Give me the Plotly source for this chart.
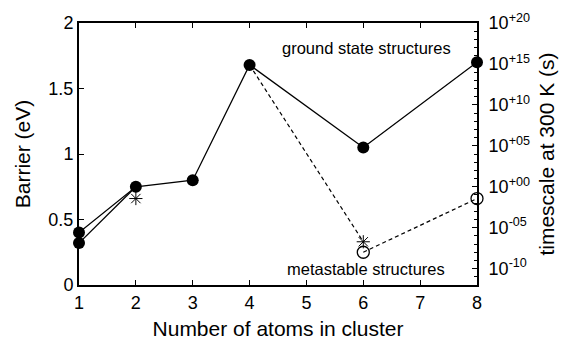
import plotly.graph_objects as go

# Data
gs_x_a = [1, 2, 3, 4, 6, 8]
gs_y_a = [0.40, 0.75, 0.80, 1.68, 1.05, 1.70]
gs_x_b = [1, 2]
gs_y_b = [0.32, 0.75]
meta_line1_x = [4, 6]
meta_line1_y = [1.68, 0.33]
meta_line2_x = [6, 8]
meta_line2_y = [0.25, 0.66]
star_x = [2, 6]
star_y = [0.66, 0.33]
open_x = [6, 8]
open_y = [0.25, 0.66]
right_major_exp = [-10, -5, 0, 5, 10, 15, 20]
right_major_labels = ["10<sup>-10</sup>", "10<sup>-05</sup>", "10<sup>+00</sup>", "10<sup>+05</sup>",
                      "10<sup>+10</sup>", "10<sup>+15</sup>", "10<sup>+20</sup>"]

FONT = "Liberation Sans"
fig = go.Figure()

line_style = dict(color="black", width=1.3)
fig.add_trace(go.Scatter(x=gs_x_a, y=gs_y_a, mode="lines", line=line_style, hoverinfo="skip", cliponaxis=False))
fig.add_trace(go.Scatter(x=gs_x_b, y=gs_y_b, mode="lines", line=line_style, hoverinfo="skip", cliponaxis=False))
fig.add_trace(go.Scatter(x=meta_line1_x, y=meta_line1_y, mode="lines",
                         line=dict(color="black", width=1.2, dash="4px,3px"), hoverinfo="skip"))
fig.add_trace(go.Scatter(x=meta_line2_x, y=meta_line2_y, mode="lines",
                         line=dict(color="black", width=1.2, dash="4px,3px"), hoverinfo="skip"))
fig.add_trace(go.Scatter(x=gs_x_a + gs_x_b[:1], y=gs_y_a + gs_y_b[:1], mode="markers",
                         marker=dict(symbol="circle", size=12, color="black"),
                         hoverinfo="skip", cliponaxis=False))
fig.add_trace(go.Scatter(x=star_x, y=star_y, mode="markers",
                         marker=dict(symbol="asterisk-open", size=11, color="black",
                                     line=dict(color="black", width=1)),
                         hoverinfo="skip", cliponaxis=False))
fig.add_trace(go.Scatter(x=open_x, y=open_y, mode="markers",
                         marker=dict(symbol="circle-open", size=12, color="black",
                                     line=dict(color="black", width=1.3)),
                         hoverinfo="skip", cliponaxis=False))
# invisible trace to attach the right axis
fig.add_trace(go.Scatter(x=[1], y=[1], yaxis="y2", mode="markers",
                         marker=dict(opacity=0), hoverinfo="skip"))

fig.add_annotation(x=6.05, y=1.81, xref="x", yref="y", text="ground state structures",
                   showarrow=False, font=dict(family=FONT, size=16.5, color="black"))
fig.add_annotation(x=6.05, y=0.12, xref="x", yref="y", text="metastable structures",
                   showarrow=False, font=dict(family=FONT, size=16.5, color="black"))

fig.update_layout(
    width=564, height=340,
    margin=dict(l=79, r=87, t=23, b=55),
    paper_bgcolor="white", plot_bgcolor="white",
    showlegend=False,
    font=dict(family=FONT, color="black"),
    xaxis=dict(range=[1, 8], tickmode="linear", tick0=1, dtick=1, automargin=False,
               showline=True, linecolor="black", linewidth=2, mirror="ticks",
               ticks="inside", ticklen=5, tickwidth=1.3, tickcolor="black",
               showgrid=False, zeroline=False,
               tickfont=dict(size=18), title=dict(text="Number of atoms in cluster",
                                                  font=dict(size=21), standoff=11)),
    yaxis=dict(range=[0, 2], tickmode="linear", tick0=0, dtick=0.5, automargin=False,
               showline=True, linecolor="black", linewidth=2,
               ticks="inside", ticklen=5, tickwidth=1.3, tickcolor="black",
               showgrid=False, zeroline=False,
               tickfont=dict(size=18), title=dict(text="Barrier (eV)", font=dict(size=21), standoff=12)),
    yaxis2=dict(type="log", range=[-12, 20], overlaying="y", side="right", automargin=False,
                showline=True, linecolor="black", linewidth=2,
                tickmode="array", tickvals=[10.0 ** e for e in right_major_exp],
                ticktext=right_major_labels,
                ticks="inside", ticklen=5, tickwidth=1.3, tickcolor="black",
                ticklabelstandoff=6,
                minor=dict(tickmode="array", tickvals=[10.0 ** e for e in range(-12, 21)],
                           ticks="inside", ticklen=3, tickwidth=1, tickcolor="black"),
                showgrid=False, zeroline=False,
                tickfont=dict(size=18),
                title=dict(text="timescale at 300 K (s)", font=dict(size=21), standoff=10)),
)

fig.write_html("out.html")
